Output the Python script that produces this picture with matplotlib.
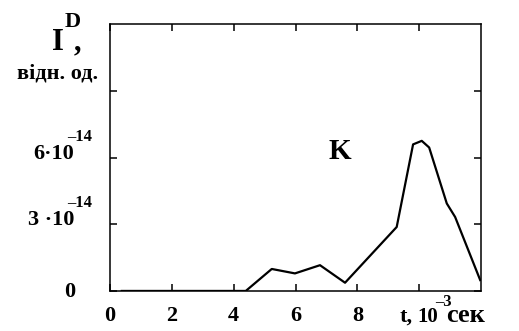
import matplotlib
matplotlib.use('Agg')
import matplotlib.pyplot as plt
from matplotlib.transforms import offset_copy

plt.rcParams['font.family'] = 'Liberation Serif'
plt.rcParams['font.weight'] = 'bold'

# дані кривої K (t у 10^-3 сек, I у 10^-14 відн. од.)
t = [0.38, 4.39, 5.23, 5.98, 6.79, 7.6, 9.27, 9.8, 10.08, 10.32, 10.89, 11.16, 11.97]
I = [0.0, 0.0, 0.99, 0.79, 1.16, 0.37, 2.88, 6.6, 6.76, 6.46, 3.94, 3.33, 0.49]

x_ticks = [0, 2, 4, 6, 8, 10]
x_labels = ['0', '2', '4', '6', '8', '']
y_ticks = [0, 3, 6, 9]
y_base = ['0', '3 ·10', '6·10', '']
y_exp = ['', '-14', '-14', '']

fig = plt.figure(figsize=(5.19, 3.31), dpi=100)
ax = fig.add_axes([0.212, 0.121, 0.715, 0.805])

ax.plot(t, I, color='black', linewidth=1.6)

ax.set_xlim(0, 12)
ax.set_ylim(0, 12)
ax.set_xticks(x_ticks)
ax.set_xticklabels(x_labels, fontsize=16, fontweight='bold')
ax.set_yticks(y_ticks)
ax.set_yticklabels([])
ax.tick_params(direction='in', length=5, width=1.1, top=True, right=True)
ax.tick_params(axis='x', pad=11)
for s in ax.spines.values():
    s.set_linewidth(1.1)

# підписи осі y: основа і показник степеня окремо
ytr = ax.get_yaxis_transform()
for y, b, e in zip(y_ticks, y_base, y_exp):
    if b == '0':
        ax.text(0, y, b, fontsize=16, ha='right', va='baseline',
                transform=offset_copy(ytr, fig=fig, x=-35, y=-6, units='dots'))
    elif b:
        ax.text(0, y, b, fontsize=16, ha='right', va='baseline',
                transform=offset_copy(ytr, fig=fig, x=-36, y=-1, units='dots'))
        ax.text(0, y, e.replace('-', '\u2013'), fontsize=12, ha='left', va='baseline',
                transform=offset_copy(ytr, fig=fig, x=-43, y=17, units='dots'))

ax.text(0.588, 0.494, 'K', transform=ax.transAxes, fontsize=21, fontweight='bold')

# підпис осі x
ax.text(0.780, -0.115, 't,', transform=ax.transAxes, fontsize=16, va='baseline')
ax.text(0.828, -0.115, '10', transform=ax.transAxes, fontsize=15, va='baseline')
ax.text(0.876, -0.058, '\u20133', transform=ax.transAxes, fontsize=12, va='baseline')
ax.text(0.905, -0.115, 'сек', transform=ax.transAxes, fontsize=19, va='baseline')

# підпис осі y
fig.text(0.100, 0.849, 'I', fontsize=22)
fig.text(0.125, 0.918, 'D', fontsize=16)
fig.text(0.142, 0.849, ',', fontsize=22)
fig.text(0.033, 0.764, 'відн. од.', fontsize=16)

fig.savefig('out.png', dpi=100)
